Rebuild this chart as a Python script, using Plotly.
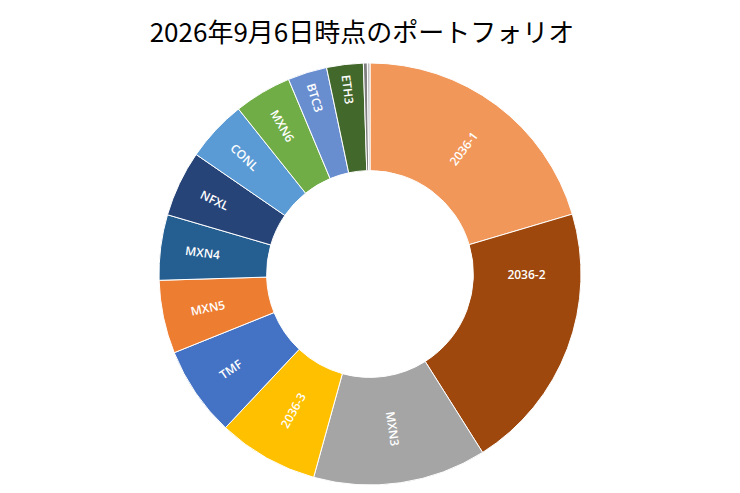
import plotly.graph_objects as go

# 銘柄 (時計回り, 12時の位置から)
labels = ["2036-1", "2036-2", "MXN3", "2036-3", "TMF", "MXN5", "MXN4",
          "NFXL", "CONL", "MXN6", "BTC3", "ETH3", "その他1", "その他2"]
shares = [20.4, 20.6, 13.25, 7.7, 6.9, 5.6, 5.0,
          5.05, 4.7, 4.4, 3.0, 2.8, 0.3, 0.2]
shown = [l if not l.startswith("その他") else "" for l in labels]
colors = ["#F1975A", "#9E480E", "#A5A5A5", "#FFC000", "#4472C4", "#ED7D31",
          "#255E91", "#264478", "#5B9BD5", "#70AD47", "#698ED0", "#43682B",
          "#7F7F7F", "#BFBFBF"]

fig = go.Figure(go.Pie(
    labels=labels,
    values=shares,
    text=shown,
    textinfo="text",
    textposition="inside",
    insidetextorientation="radial",
    insidetextfont=dict(family="Open Sans", size=12, color="white", weight=600),
    hole=0.49,
    sort=False,
    direction="clockwise",
    rotation=0,
    marker=dict(colors=colors, line=dict(color="white", width=1)),
    showlegend=False,
    hoverinfo="label+percent",
))

# page body has an 8px margin, so the figure is sized/offset to compensate
fig.update_layout(
    title=dict(text="2026年9月6日時点のポートフォリオ", x=0.4836, xanchor="center",
               y=0.948, yanchor="middle",
               font=dict(family="Noto Sans CJK JP", size=26, color="black")),
    margin=dict(l=0, r=8, t=55, b=8),
    width=732,
    height=485,
    paper_bgcolor="white",
)

fig.write_html("out.html")
